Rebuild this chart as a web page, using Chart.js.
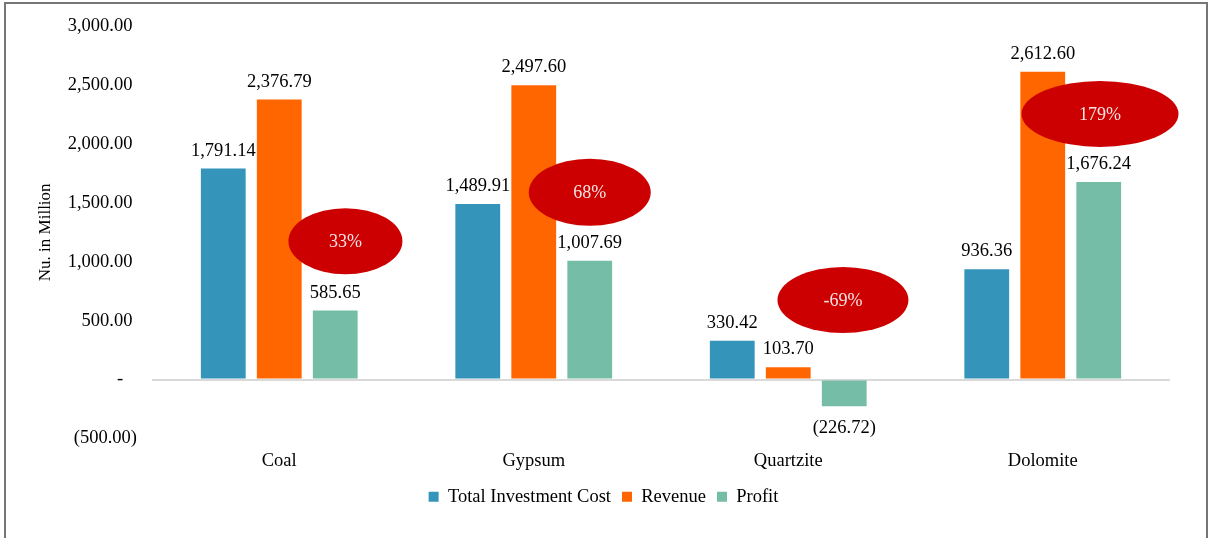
<!DOCTYPE html>
<html>
<head>
<meta charset="utf-8">
<script src="https://cdn.jsdelivr.net/npm/chart.js@4.4.1/dist/chart.umd.min.js"></script>
<style>
  html, body { margin: 0; padding: 0; background: #fff; }
  .wrap { position: relative; width: 1210px; height: 538px; overflow: hidden; }
  .frame {
    position: absolute; left: 4px; top: 2px; width: 1204px; height: 560px;
    box-sizing: border-box; border: 2px solid #767676; pointer-events: none;
  }
</style>
</head>
<body>
<div class="wrap">
  <canvas id="chart"></canvas>
  <div class="frame"></div>
</div>
<script>
// data (Nu. in Million)
const categories = ['Coal', 'Gypsum', 'Quartzite', 'Dolomite'];
const investment = [1791.14, 1489.91, 330.42, 936.36];
const revenue = [2376.79, 2497.60, 103.70, 2612.60];
const profit = [585.65, 1007.69, -226.72, 1676.24];
const yTicks = [-500, 0, 500, 1000, 1500, 2000, 2500, 3000];

// profit-margin callouts: text and the value height they sit at
const calloutText = ['33%', '68%', '-69%', '179%'];
const calloutValue = [1175, 1590, 675, 2255];

// callout look (shift right of category centre as share of category width, ellipse w/h)
const calloutShift = [0.26, 0.22, 0.215, 0.225];
const calloutSize = [[114, 66], [122, 67], [131, 66], [157, 66]];

const serif = "'Liberation Serif', 'Times New Roman', serif";

function acct(v) {
  if (v === 0) return '-';
  const s = Math.abs(v).toLocaleString('en-US', { minimumFractionDigits: 2, maximumFractionDigits: 2 });
  return v < 0 ? '(' + s + ')' : s;
}

// value labels at the bar ends
const valueLabels = {
  id: 'valueLabels',
  afterDatasetsDraw(chart) {
    const ctx = chart.ctx;
    ctx.save();
    ctx.font = '18.5px ' + serif;
    ctx.fillStyle = '#000';
    ctx.textAlign = 'center';
    ctx.textBaseline = 'alphabetic';
    chart.data.datasets.forEach((ds, di) => {
      chart.getDatasetMeta(di).data.forEach((bar, i) => {
        const v = ds.data[i];
        const y = v < 0 ? bar.y + 27 : bar.y - 13;
        ctx.fillText(acct(v), bar.x, y);
      });
    });
    ctx.restore();
  }
};

// red ellipses with the profit margin
const callouts = {
  id: 'callouts',
  afterDatasetsDraw(chart) {
    const ctx = chart.ctx;
    const x = chart.scales.x;
    const y = chart.scales.y;
    const catW = x.width / categories.length;
    ctx.save();
    calloutText.forEach((t, i) => {
      const cx = x.getPixelForValue(i) + calloutShift[i] * catW;
      const cy = y.getPixelForValue(calloutValue[i]);
      ctx.beginPath();
      ctx.ellipse(cx, cy, calloutSize[i][0] / 2, calloutSize[i][1] / 2, 0, 0, Math.PI * 2);
      ctx.fillStyle = '#CC0000';
      ctx.fill();
      ctx.font = '18px ' + serif;
      ctx.fillStyle = '#F7E4E4';
      ctx.textAlign = 'center';
      ctx.textBaseline = 'middle';
      ctx.fillText(t, cx, cy + 1);
    });
    ctx.restore();
  }
};

new Chart(document.getElementById('chart'), {
  type: 'bar',
  data: {
    labels: categories,
    datasets: [
      { label: 'Total Investment Cost', data: investment, backgroundColor: '#3494BA' },
      { label: 'Revenue', data: revenue, backgroundColor: '#FF6600' },
      { label: 'Profit', data: profit, backgroundColor: '#75BDA7' }
    ]
  },
  options: {
    responsive: true,
    maintainAspectRatio: false,
    animation: false,
    categoryPercentage: 0.66,
    barPercentage: 0.8,
    layout: { padding: { left: 37, right: 40, top: 26, bottom: 22 } },
    plugins: {
      legend: {
        position: 'bottom',
        labels: {
          boxWidth: 10,
          boxHeight: 10,
          padding: 11,
          color: '#000',
          font: { family: serif, size: 18.5 }
        }
      },
      tooltip: { enabled: false }
    },
    scales: {
      x: {
        grid: { display: false },
        border: { display: false },
        ticks: { color: '#000', padding: 4, font: { family: serif, size: 18.5 } },
        afterFit(s) { s.height = 38; }
      },
      y: {
        min: yTicks[0],
        max: yTicks[yTicks.length - 1],
        afterBuildTicks(s) { s.ticks = yTicks.map(v => ({ value: v })); },
        afterFit(s) { s.width = 115; },
        border: { display: false },
        grid: {
          drawTicks: false,
          lineWidth: 2,
          color: c => (c.tick && c.tick.value === 0 ? '#D9D9D9' : 'rgba(0,0,0,0)')
        },
        ticks: {
          color: '#000',
          padding: 15,
          font: { family: serif, size: 18.5 },
          callback: v => (v === 0 ? '-   ' : acct(v) + (v > 0 ? ' ' : ''))
        },
        title: {
          display: true,
          text: 'Nu. in Million',
          color: '#000',
          padding: 0,
          font: { family: serif, size: 17, lineHeight: 1 }
        }
      }
    }
  },
  plugins: [valueLabels, callouts]
});
</script>
</body>
</html>
